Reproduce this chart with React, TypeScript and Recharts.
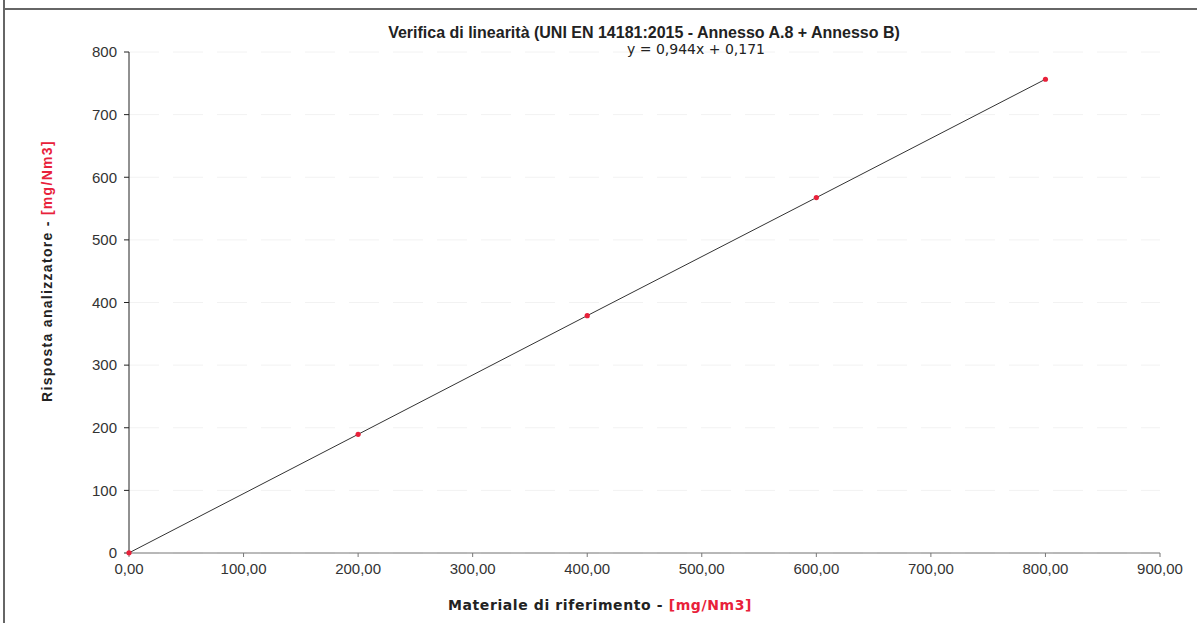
import React from 'react';
import { ComposedChart, Line, XAxis, YAxis, CartesianGrid } from 'recharts';

// Reference material concentration vs analyser response
const riferimento = [0, 200, 400, 600, 800];
const risposta = [0.2, 189.5, 379.0, 567.5, 756.5];
const xTicks = [0, 100, 200, 300, 400, 500, 600, 700, 800, 900];
const yTicks = [0, 100, 200, 300, 400, 500, 600, 700, 800];

const data = riferimento.map((x, i) => ({ x, y: risposta[i] }));

const W = 1197;
const H = 623;

const fmtX = (v: number) => v.toFixed(2).replace('.', ',');

const RedDot = (props: any) => {
    const { cx, cy } = props;
    if (cx == null || cy == null) return null;
    return <circle cx={cx} cy={cy} r={2.6} fill="#e8213a" stroke="none" />;
};

export default function App() {
    return (
        <div style={{ position: 'absolute', left: 0, top: 0, width: W, height: H, background: '#fff', fontFamily: '"Liberation Sans", Arial, sans-serif' }}>
            {/* scanned frame */}
            <div style={{ position: 'absolute', left: 3, top: 8, width: W - 3, height: 1.5, background: '#666' }} />
            <div style={{ position: 'absolute', left: 3, top: 0, width: 1.5, height: H, background: '#666' }} />

            <ComposedChart width={W} height={H} data={data} margin={{ top: 52, right: 37, left: 0, bottom: 0 }}>
                <CartesianGrid vertical={false} stroke="#f2f2f2" strokeDasharray="30 14" />
                <XAxis
                    type="number"
                    dataKey="x"
                    domain={[0, 900]}
                    ticks={xTicks}
                    tickFormatter={fmtX}
                    height={70}
                    stroke="#777"
                    tickSize={4}
                    tickMargin={6}
                    tick={{ fontSize: 15, fill: '#333' }}
                    interval={0}
                />
                <YAxis
                    type="number"
                    domain={[0, 800]}
                    ticks={yTicks}
                    width={129}
                    stroke="#222"
                    tickSize={5}
                    tickMargin={7}
                    tick={{ fontSize: 15, fill: '#333' }}
                    interval={0}
                />
                <Line
                    type="linear"
                    dataKey="y"
                    stroke="#333"
                    strokeWidth={1}
                    dot={<RedDot />}
                    activeDot={false}
                    isAnimationActive={false}
                />
                <text x={644} y={38} textAnchor="middle" fontSize={16} fontWeight="bold" fill="#222" fontFamily='"Liberation Sans", Arial, sans-serif'>
                    Verifica di linearità (UNI EN 14181:2015 - Annesso A.8 + Annesso B)
                </text>
                <text x={696} y={54} textAnchor="middle" fontSize={14} fill="#222" fontFamily='"DejaVu Sans", Verdana, sans-serif'>
                    y = 0,944x + 0,171
                </text>
                <text x={600} y={610} textAnchor="middle" fontSize={14} fontWeight="bold" letterSpacing={0.6} fill="#222" fontFamily='"DejaVu Sans", Verdana, sans-serif'>
                    Materiale di riferimento - <tspan fill="#e8213a">[mg/Nm3]</tspan>
                </text>
                <text x={52} y={271} textAnchor="middle" fontSize={14} fontWeight="bold" letterSpacing={1.3} fill="#222" transform="rotate(-90 52 271)" fontFamily='"Liberation Sans", Arial, sans-serif'>
                    Risposta analizzatore - <tspan fill="#e8213a">[mg/Nm3]</tspan>
                </text>
            </ComposedChart>
        </div>
    );
}
